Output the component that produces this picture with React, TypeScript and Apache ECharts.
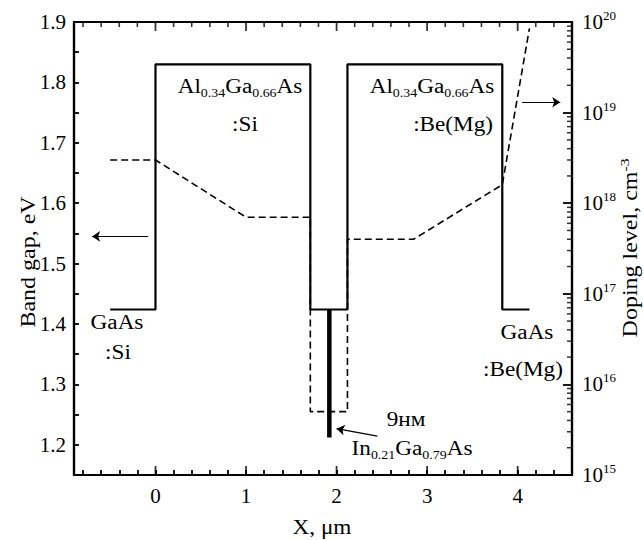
import { useEffect, useRef } from "react";
import * as echarts from "echarts";

const FONT = "'Liberation Serif', 'Times New Roman', serif";

// band gap profile (solid), eV
const bandX = [-0.5, 0, 0, 1.71, 1.71, 2.12, 2.12, 3.83, 3.83, 4.13];
const bandGap = [1.424, 1.424, 1.83, 1.83, 1.424, 1.424, 1.83, 1.83, 1.424, 1.424];
// InGaAs quantum well (thick)
const wellX = [1.92, 1.92];
const wellGap = [1.424, 1.212];
// doping profile (dashed), cm^-3
const dopingX = [-0.5, 0, 1.0, 1.71, 1.71, 2.12, 2.12, 2.85, 3.83, 4.13];
const doping = [3e18, 3e18, 7e17, 7e17, 5e15, 5e15, 4e17, 4e17, 1.6e18, 8.5e19];

// axes
const X_MIN = -0.9, X_MAX = 4.6;
const Y_MIN = 1.15, Y_MAX = 1.9;
const D_MIN = 1e15, D_MAX = 1e20;
const xMajor = [0, 1, 2, 3, 4];
const xMinor = [-0.8, -0.6, -0.4, -0.2, 0.2, 0.4, 0.6, 0.8, 1.2, 1.4, 1.6, 1.8, 2.2, 2.4, 2.6, 2.8, 3.2, 3.4, 3.6, 3.8, 4.2, 4.4];
const logMinor: number[] = [];
for (let e = 15; e < 20; e++) for (let m = 2; m <= 9; m++) logMinor.push(m * Math.pow(10, e));

const zip = (xs: number[], ys: number[]) => xs.map((x, i) => [x, ys[i]]);

export default function App() {
  const ref = useRef<HTMLDivElement>(null);

  useEffect(() => {
    document.body.style.margin = "0";
    if (!ref.current) return;
    const chart = echarts.init(ref.current, null, { renderer: "svg" });
    const black = "#000";
    const label = { fontFamily: FONT, fontSize: 21, color: black };
    const sub = { fontFamily: FONT, fontSize: 12, color: black, padding: [11, 0, 0, 0] };
    const main = { fontFamily: FONT, fontSize: 20, fill: black };
    const SX = 1.16;
    const lineAx = { show: true, onZero: false, lineStyle: { color: black, width: 2.2 } };
    const tick = (length: number, width = 1.8) => ({ show: true, inside: true, length, lineStyle: { color: black, width } });

    const txt = (x: number, y: number, text: string, align = "center", extra: any = {}) => ({
      type: "text", x, y, scaleX: SX, ...extra,
      style: { text, ...main, align, verticalAlign: "middle", rich: { s: sub }, ...(extra.style || {}) },
    });
    // short marks drawn through the scales (longer integer ticks, top ticks, log minor ticks)
    const tickMarks = (data: number[][], yAxisIndex: number, size: number[], offset: number[]) => ({
      type: "scatter", xAxisIndex: 0, yAxisIndex, data, symbol: "rect", symbolSize: size, symbolOffset: offset,
      itemStyle: { color: black }, silent: true, clip: false, z: 5,
    });

    chart.setOption({
      animation: false,
      backgroundColor: "#fff",
      grid: { left: 74, right: 72, top: 22, bottom: 65, show: true, borderColor: black, borderWidth: 2.2, backgroundColor: "transparent" },
      xAxis: [
        { type: "value", min: X_MIN, max: X_MAX, splitNumber: 27, position: "bottom", splitLine: { show: false },
          axisLine: lineAx, axisTick: tick(5),
          axisLabel: { ...label, margin: 10,
            formatter: (v: number) => (Math.abs(v - Math.round(v)) < 1e-6 ? String(Math.round(v)) : "") } },
      ],
      yAxis: [
        { type: "value", min: Y_MIN, max: Y_MAX, splitNumber: 15, position: "left", splitLine: { show: false },
          axisLine: lineAx, axisTick: tick(5),
          axisLabel: { ...label, margin: 8,
            formatter: (v: number) => (Math.round(v * 20) % 2 === 0 ? (Math.round(v * 10) / 10).toFixed(1) : "") } },
        { type: "log", logBase: 10, min: D_MIN, max: D_MAX, position: "right", splitLine: { show: false },
          axisLine: lineAx, axisTick: tick(9),
          axisLabel: { margin: 10,
            formatter: (v: number) => `{b|10}{s|${Math.round(Math.log10(v))}}`,
            rich: { b: { fontFamily: FONT, fontSize: 21, color: black }, s: { fontFamily: FONT, fontSize: 13, color: black, padding: [0, 0, 13, 0] } } } },
      ],
      series: [
        { type: "line", xAxisIndex: 0, yAxisIndex: 1, data: zip(dopingX, doping), symbol: "none",
          lineStyle: { color: black, width: 1.6, type: [7, 4] },
          markLine: { silent: true, symbol: ["none", "arrow"], symbolSize: 8, label: { show: false },
            lineStyle: { color: black, width: 1.2, type: "solid" },
            data: [[{ coord: [4.05, 1.3e19] }, { coord: [4.47, 1.3e19] }]] } },
        { type: "line", xAxisIndex: 0, yAxisIndex: 0, data: zip(bandX, bandGap), symbol: "none",
          lineStyle: { color: black, width: 2.2 } },
        { type: "line", xAxisIndex: 0, yAxisIndex: 0, data: zip(wellX, wellGap), symbol: "none",
          lineStyle: { color: black, width: 4.5 },
          markLine: { silent: true, symbol: ["none", "arrow"], symbolSize: 8, label: { show: false },
            lineStyle: { color: black, width: 1.2, type: "solid" },
            data: [
              [{ coord: [-0.08, 1.545] }, { coord: [-0.7, 1.545] }],
              [{ coord: [2.45, 1.2145] }, { coord: [2.0, 1.2267] }],
            ] } },
        tickMarks(xMajor.map((x) => [x, Y_MIN]), 0, [1.8, 9], [0, -4.5]),
        tickMarks(xMajor.map((x) => [x, Y_MAX]), 0, [1.8, 9], [0, 4.5]),
        tickMarks(xMinor.map((x) => [x, Y_MAX]), 0, [1.6, 5], [0, 2.5]),
        tickMarks(logMinor.map((v) => [X_MAX, v]), 1, [5, 1.5], [-2.5, 0]),
      ],
      graphic: [
        txt(240, 87, "Al{s|0.34}Ga{s|0.66}As"),
        txt(245, 125, ":Si"),
        txt(432, 87, "Al{s|0.34}Ga{s|0.66}As"),
        txt(493, 125, ":Be(Mg)", "right"),
        txt(117, 323, "GaAs"),
        txt(118, 353, ":Si"),
        txt(527, 333, "GaAs"),
        txt(523, 370, ":Be(Mg)"),
        txt(406, 420, "9нм"),
        txt(412, 449, "In{s|0.21}Ga{s|0.79}As"),
        txt(28, 262, "Band gap, eV", "center", { rotation: Math.PI / 2, scaleX: 1.2 }),
        txt(630, 248, "Doping level, cm{p|-3}", "center", { rotation: Math.PI / 2, scaleX: 1.2,
          style: { rich: { p: { fontFamily: FONT, fontSize: 13, color: black, padding: [0, 0, 12, 0] } } } }),
        txt(322, 528, "X, μm"),
      ],
    } as any);

    return () => chart.dispose();
  }, []);

  return <div ref={ref} style={{ width: 644, height: 540 }} />;
}
